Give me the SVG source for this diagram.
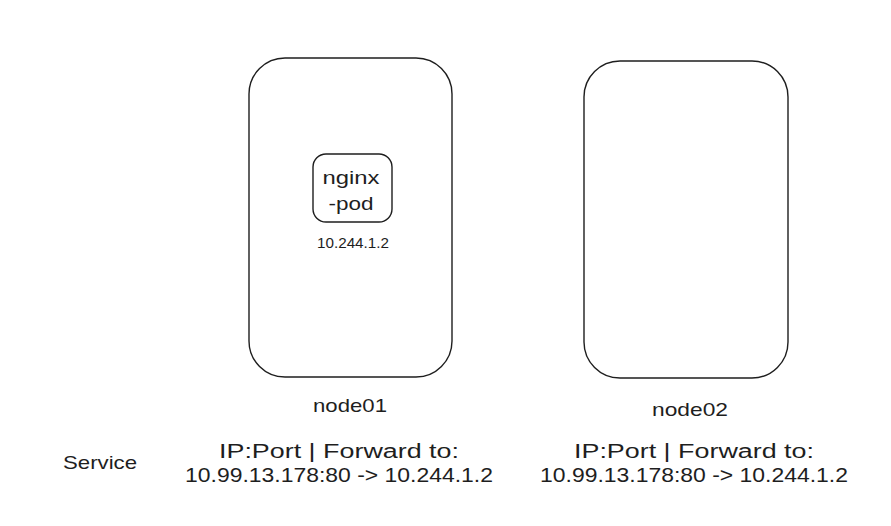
<svg xmlns="http://www.w3.org/2000/svg" width="891" height="526" viewBox="0 0 891 526">
<style>
.box{fill:none;stroke:#1e1e1e;stroke-width:1.4}
.t{font-family:"Liberation Sans",sans-serif;fill:#1e1e1e;text-anchor:middle}
</style>
<rect width="891" height="526" fill="#fff"/>
<g id="node01">
<rect class="box" x="249" y="58" width="203" height="319" rx="36"/>
<text class="t" x="350" y="412" font-size="19" textLength="74" lengthAdjust="spacingAndGlyphs">node01</text>
</g>
<g id="node02">
<rect class="box" x="584" y="61" width="204" height="317" rx="36"/>
<text class="t" x="690" y="416" font-size="19" textLength="76" lengthAdjust="spacingAndGlyphs">node02</text>
</g>
<g id="nginx-pod">
<rect class="box" x="313" y="154" width="79" height="68" rx="13"/>
<text class="t" x="351" y="184" font-size="18" textLength="57" lengthAdjust="spacingAndGlyphs">nginx</text>
<text class="t" x="351" y="210" font-size="18" textLength="45" lengthAdjust="spacingAndGlyphs">-pod</text>
<text class="t" x="353" y="248" font-size="15" textLength="72" lengthAdjust="spacingAndGlyphs">10.244.1.2</text>
</g>
<g id="service">
<text class="t" x="100" y="469" font-size="19" textLength="74" lengthAdjust="spacingAndGlyphs">Service</text>
<text class="t" x="339" y="458" font-size="20" textLength="240" lengthAdjust="spacingAndGlyphs">IP:Port | Forward to:</text>
<text class="t" x="339" y="482" font-size="20" textLength="308" lengthAdjust="spacingAndGlyphs">10.99.13.178:80 -&gt; 10.244.1.2</text>
<text class="t" x="694" y="458" font-size="20" textLength="240" lengthAdjust="spacingAndGlyphs">IP:Port | Forward to:</text>
<text class="t" x="694" y="482" font-size="20" textLength="308" lengthAdjust="spacingAndGlyphs">10.99.13.178:80 -&gt; 10.244.1.2</text>
</g>
<g id="connectors"/>
</svg>
